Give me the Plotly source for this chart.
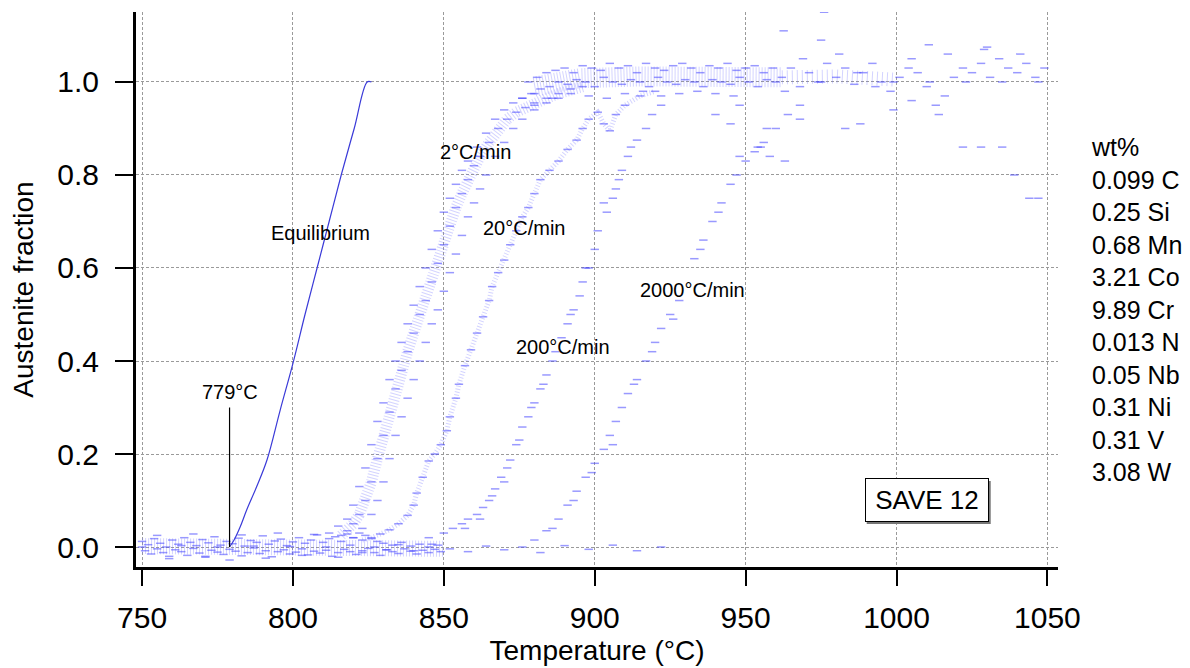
import plotly.graph_objects as go

# Equilibrium curve (solid line)
eq_T = [779, 780.5, 782.5, 784.7, 788, 791.4, 795.8, 800, 804, 808, 812, 816, 820.3, 824.6, 826]
eq_f = [0.0, 0.015, 0.043, 0.08, 0.13, 0.187, 0.295, 0.395, 0.5, 0.6, 0.7, 0.8, 0.9, 1.0, 1.0]

# Baseline scatter (ferrite, f ~ 0)
base_T = [750, 752, 754, 756, 758, 760, 762, 764, 766, 768, 770, 772, 774, 776, 778, 780,
          782, 784, 786, 788, 790, 792, 794, 796, 798, 800, 802, 804, 806, 808, 810, 812,
          814, 816, 818, 820, 822, 824, 826, 828, 830, 833, 836, 839, 842, 845, 848,
          751, 753, 755, 757, 759, 761, 763, 765, 767, 769, 771, 773, 775, 777, 779, 781,
          783, 785, 787, 789, 791, 793, 795, 797, 799, 801, 803, 805, 807, 809, 811, 813,
          815, 817, 819, 821, 823, 825, 827, 829, 831, 833, 835, 837, 839, 841, 843, 845,
          847, 849,
          750, 755, 759, 763, 767, 771, 775, 779, 783, 787, 791, 795, 799, 803, 807, 811,
          815, 819, 823, 827, 831, 835, 840, 846, 852, 858, 864, 870, 876, 882, 890, 898,
          906, 914, 922]
base_f = [0.012, 0.005, 0.018, 0.008, 0.0, 0.015, 0.006, 0.02, 0.01, 0.003, 0.016, 0.009,
          0.022, 0.004, 0.012, 0.007, 0.019, 0.002, 0.014, 0.01, 0.024, 0.006, 0.013, 0.017,
          0.003, 0.011, 0.02, 0.008, 0.015, 0.026, 0.01, 0.018, 0.022, 0.012, 0.028, 0.02,
          0.03, 0.025, 0.018, 0.012, 0.008, 0.004, 0.01, 0.002, 0.006, 0.0, 0.004,
          -0.008, -0.015, -0.004, -0.012, -0.02, -0.006, -0.01, -0.018, -0.003, -0.013,
          -0.022, -0.007, -0.011, -0.016, -0.005, -0.009, -0.019, -0.012, -0.002, -0.014,
          -0.008, -0.021, -0.01, -0.006, -0.015, -0.011, -0.004, -0.017, -0.009, -0.013,
          -0.007, -0.02, -0.012, -0.005, -0.01, -0.016, -0.008, -0.003, -0.012, -0.018,
          -0.006, -0.01, -0.014, -0.004, -0.009, -0.015, -0.007, -0.012, -0.005, -0.01,
          0.0, 0.025, -0.025, 0.003, 0.028, -0.02, 0.0, -0.028, 0.026, 0.002,
          -0.024, 0.03, 0.001, -0.018, 0.027, 0.0, -0.022, 0.004, -0.012, 0.0,
          -0.006, 0.005, -0.008, 0.006, -0.004, -0.01, 0.002, -0.006, 0.0, -0.012,
          0.003, -0.005, 0.004, -0.008, 0.0]
# mean level of the baseline cloud
base_mid_T = [750, 800, 835, 850]
base_mid_f = [0.002, 0.002, 0.0, -0.004]

# 2 C/min band: centre line, then left and right edges
r2c_T = [816, 818, 820, 822, 824, 826, 828, 830, 832, 834, 836, 838, 840, 842, 844, 846,
         848, 850, 852, 854, 856, 858, 860, 862, 865, 868, 871, 874, 877, 880, 884, 888, 892, 896]
r2c_f = [0.025, 0.035, 0.05, 0.07, 0.1, 0.14, 0.19, 0.24, 0.29, 0.34, 0.38, 0.42, 0.46, 0.50,
         0.53, 0.57, 0.61, 0.65, 0.69, 0.73, 0.76, 0.79, 0.82, 0.84, 0.87, 0.9, 0.92, 0.935,
         0.945, 0.955, 0.965, 0.975, 0.985, 0.99]
r2e_T = [812, 815, 818, 820, 822, 824, 826, 828, 830, 832, 834, 836, 838, 840, 842, 844,
         846, 848, 850, 852, 854, 856, 858, 861, 864, 867, 870, 873, 876, 880,
         820, 823, 826, 828, 830, 832, 834, 836, 838, 840, 842, 844, 846, 848, 850, 852,
         854, 856, 858, 860, 862, 864, 867, 870, 873, 876, 880, 884, 888]
r2e_f = [0.03, 0.045, 0.06, 0.09, 0.13, 0.17, 0.22, 0.27, 0.31, 0.36, 0.4, 0.44, 0.48, 0.52,
         0.56, 0.6, 0.64, 0.68, 0.72, 0.75, 0.78, 0.81, 0.83, 0.86, 0.89, 0.92, 0.94, 0.955,
         0.965, 0.975,
         0.02, 0.04, 0.07, 0.1, 0.14, 0.19, 0.24, 0.28, 0.32, 0.36, 0.4, 0.44, 0.48, 0.51,
         0.55, 0.59, 0.63, 0.67, 0.71, 0.74, 0.77, 0.8, 0.84, 0.87, 0.9, 0.92, 0.94, 0.955, 0.965]

# 20 C/min
r20_T = [823, 826, 829, 832, 835, 838, 840, 841, 843, 845, 847, 849, 851, 852, 854, 855,
         857, 859, 861, 863, 865, 866, 868, 870, 872, 874, 876, 878, 880, 882, 885, 888,
         891, 894, 896, 898, 901, 903, 905, 907, 910, 915, 920]
r20_f = [0.015, 0.02, 0.028, 0.037, 0.05, 0.068, 0.09, 0.116, 0.15, 0.185, 0.2, 0.22, 0.25,
         0.28, 0.32, 0.35, 0.39, 0.424, 0.46, 0.495, 0.53, 0.56, 0.59, 0.617, 0.65, 0.68,
         0.71, 0.73, 0.76, 0.79, 0.81, 0.83, 0.855, 0.875, 0.9, 0.92, 0.935, 0.91, 0.895,
         0.93, 0.95, 0.97, 0.98]

# 200 C/min
r200_T = [845, 850, 853, 856, 858, 861, 863, 865, 867, 869, 871, 872, 874, 876, 878, 880,
          882, 884, 886, 889, 891, 893, 895, 896, 898, 900, 901, 904, 906, 908, 909, 911,
          914, 917, 919, 922,
          857, 862, 866, 870, 875, 879, 883, 887, 892, 897, 903, 907, 912]
r200_f = [0.02, 0.03, 0.04, 0.05, 0.06, 0.07, 0.085, 0.1, 0.125, 0.15, 0.17, 0.187, 0.22,
          0.258, 0.28, 0.31, 0.34, 0.37, 0.4, 0.45, 0.48, 0.51, 0.54, 0.57, 0.6, 0.64, 0.68,
          0.72, 0.75, 0.79, 0.81, 0.84, 0.875, 0.9, 0.93, 0.95,
          0.04, 0.06, 0.11, 0.14, 0.23, 0.3, 0.35, 0.42, 0.5, 0.6, 0.74, 0.77, 0.86]

# 2000 C/min
r2000_T = [880, 884, 888, 891, 894, 897, 900, 903, 905, 907, 909, 911, 914, 917, 920, 922,
           925, 928, 933, 936, 939, 942, 945, 947, 950, 953, 956, 960, 964, 968,
           886, 893, 899, 906, 913, 919, 926, 935, 941, 948, 955]
r2000_f = [0.015, 0.035, 0.06, 0.09, 0.12, 0.15, 0.18, 0.21, 0.24, 0.27, 0.3, 0.33, 0.36,
           0.4, 0.44, 0.47, 0.5, 0.53, 0.62, 0.66, 0.7, 0.74, 0.78, 0.8, 0.83, 0.85, 0.87,
           0.9, 0.93, 0.95,
           0.04, 0.1, 0.16, 0.22, 0.35, 0.42, 0.49, 0.64, 0.72, 0.84, 0.86]

# fully austenitic plateau (all rates merge)
plat_T = [878, 881, 884, 887, 890, 893, 896, 899, 902, 905, 908, 911, 914, 917, 920, 923,
          926, 929, 932, 935, 938, 941, 944, 947, 950, 953, 956, 959,
          876, 879, 882, 885, 888, 891, 894, 897, 900, 903, 906, 909, 912, 915, 918, 921,
          924, 927, 930, 933, 936, 939, 942, 945, 948, 951, 954, 957, 960,
          880, 886, 892, 898, 904, 910, 916, 922, 928, 934, 940, 946,
          962, 965, 968, 971, 974, 977, 980, 983, 986, 989, 992, 995, 998, 1001, 1004, 1007,
          1010, 1013, 1016, 1019, 1022, 1025, 1028, 1031, 1034, 1037, 1040, 1043, 1046, 1049,
          963, 969, 975, 981, 987, 993, 999, 1005, 1011, 1017, 1023, 1029, 1035, 1041, 1047,
          954, 958, 963, 976, 985.5, 962.6, 975, 983, 988, 1010.7, 1030, 1022, 1028, 1035,
          1039, 1044, 1047, 940, 945, 968, 999, 1014, 948, 957, 1005]
plat_f = [1.0, 1.01, 1.02, 1.025, 1.03, 1.02, 1.035, 1.03, 1.025, 1.04, 1.03, 1.035, 1.02,
          1.04, 1.03, 1.025, 1.035, 1.04, 1.03, 1.02, 1.035, 1.03, 1.04, 1.025, 1.03, 1.035,
          1.02, 1.03,
          0.965, 0.975, 0.985, 0.99, 1.0, 0.995, 1.005, 1.0, 0.99, 1.01, 1.0, 0.995, 1.005,
          1.0, 0.99, 1.01, 1.0, 0.995, 1.005, 1.0, 0.99, 1.005, 1.0, 0.995, 1.01, 1.0, 0.99,
          1.005, 1.0,
          0.95, 0.965, 0.975, 0.97, 0.965, 0.975, 0.98, 0.97, 0.975, 0.98, 0.975, 0.97,
          1.01, 1.03, 0.99, 1.02, 1.0, 1.04, 1.01, 1.03, 0.995, 1.02, 1.04, 1.0, 0.98, 1.01,
          1.03, 1.02, 0.99, 0.95, 0.97, 1.01, 1.03, 1.02, 1.04, 1.01, 1.05, 1.03, 1.02, 1.04,
          1.01, 1.03,
          0.98, 1.05, 1.0, 1.06, 1.02, 0.99, 1.0, 1.05, 1.0, 1.06, 1.0, 1.07, 1.0, 1.06, 1.0,
          0.86, 0.84, 0.83, 1.15, 1.155, 1.11, 1.09, 0.9, 0.91, 1.08, 1.075, 0.86, 0.86, 0.86,
          0.8, 0.75, 0.75, 0.93, 0.91, 0.92, 0.94, 0.93, 0.95, 0.9, 0.96]
# mean level of the dense part of the plateau
plat_mid_T = [880, 895, 915, 935, 955, 962]
plat_mid_f = [0.99, 1.008, 1.012, 1.012, 1.01, 1.01]
# looser part of the plateau
plat_tail_T = [962, 980, 1000]
plat_tail_f = [1.01, 1.012, 1.005]

composition = ["wt%", "0.099 C", "0.25 Si", "0.68 Mn", "3.21 Co", "9.89 Cr",
               "0.013 N", "0.05 Nb", "0.31 Ni", "0.31 V", "3.08 W"]

FONT = "Liberation Sans, Arial, sans-serif"
dot_col = "rgba(70,70,255,0.55)"
band_col = "rgba(110,110,255,0.30)"

fig = go.Figure()

# speckled density bands under the scatter (fine dash pattern)
for T, f, w, dash in [(base_mid_T, base_mid_f, 16, '1px,2px'), (r2c_T, r2c_f, 11, '1px,2px'),
                      (r20_T, r20_f, 5, '1px,2px'), (plat_mid_T, plat_mid_f, 20, '1px,2px'),
                      (plat_tail_T, plat_tail_f, 14, '1px,4px')]:
    fig.add_trace(go.Scatter(x=T, y=f, mode='lines', showlegend=False, hoverinfo='skip',
                             line=dict(color=band_col, width=w, dash=dash)))

# scatter clouds
for T, f in [(base_T, base_f), (r2c_T, r2c_f), (r2e_T, r2e_f), (r20_T, r20_f),
             (r200_T, r200_f), (r2000_T, r2000_f), (plat_T, plat_f)]:
    fig.add_trace(go.Scatter(x=T, y=f, mode='markers', showlegend=False, hoverinfo='skip',
                             marker=dict(symbol='line-ew', size=6,
                                         line=dict(color=dot_col, width=1.5))))

fig.add_trace(go.Scatter(x=eq_T, y=eq_f, mode='lines', showlegend=False,
                         line=dict(color='#3a3ad8', width=1.2, shape='spline')))

# 779 C marker line
fig.add_shape(type='line', x0=779, x1=779, y0=0, y1=0.30,
              line=dict(color='black', width=1.2))

labels = [("779°C", 779.3, 0.333), ("Equilibrium", 809, 0.675), ("2°C/min", 860.4, 0.849),
          ("20°C/min", 876.7, 0.686), ("200°C/min", 889.6, 0.43),
          ("2000°C/min", 932.4, 0.553)]
for txt, x, y in labels:
    fig.add_annotation(x=x, y=y, text=txt, showarrow=False,
                       font=dict(family=FONT, size=20, color='black'))

# SAVE 12 box with a drop shadow
fig.add_shape(type='rect', xref='x', yref='y', xsizemode='pixel', ysizemode='pixel',
              xanchor=1010, yanchor=0.101, x0=-60, x1=64, y0=-24, y1=19,
              fillcolor='#777', line=dict(width=0), layer='above')
fig.add_annotation(x=1010, y=0.101, text="SAVE 12", showarrow=False,
                   width=116, height=36, borderpad=3,
                   font=dict(family=FONT, size=26, color='black'), bgcolor='white',
                   bordercolor='black', borderwidth=1)

fig.add_annotation(xref='paper', yref='paper', x=1.0336, y=0.464, xanchor='left',
                   yanchor='middle', align='left', showarrow=False,
                   text="<br>".join(composition),
                   font=dict(family=FONT, size=25, color='black'))

axis_common = dict(showline=True, linewidth=3, linecolor='black', mirror=False,
                   ticks='outside', tickwidth=2, tickcolor='black', automargin=False,
                   showgrid=True, gridcolor='#9a9a9a', gridwidth=1, griddash='3px,2px',
                   zeroline=False, tickfont=dict(family=FONT, size=30, color='black'))

fig.update_xaxes(range=[748, 1053.5], tickvals=[750, 800, 850, 900, 950, 1000, 1050],
                 ticklen=16, ticklabelstandoff=6,
                 title=dict(text="Temperature (°C)", standoff=8,
                            font=dict(family=FONT, size=28, color='black')),
                 **axis_common)
fig.update_yaxes(range=[-0.043, 1.1505], tickvals=[0, 0.2, 0.4, 0.6, 0.8, 1.0],
                 tickformat='.1f', ticklen=18, ticklabelstandoff=10,
                 title=dict(text="Austenite fraction", standoff=22,
                            font=dict(family=FONT, size=28, color='black')),
                 **axis_common)

# page body has an 8px margin, so the figure is shifted and shrunk to match
fig.update_layout(width=1182, height=660, plot_bgcolor='white', paper_bgcolor='white',
                  margin=dict(l=128, r=132, t=4, b=101), showlegend=False)

fig.write_html("out.html")
